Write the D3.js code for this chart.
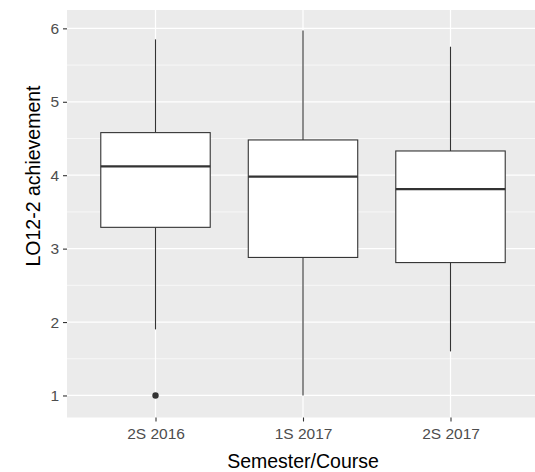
<!DOCTYPE html>
<html>
<head>
<meta charset="utf-8">
<script src="https://cdn.jsdelivr.net/npm/d3@7"></script>
<style>
  html, body { margin: 0; padding: 0; background: #ffffff; }
  svg { display: block; }
  text { font-family: Arial, "Liberation Sans", sans-serif; }
</style>
</head>
<body>
<svg id="chart" width="535" height="472"></svg>
<script>
// Five-number summaries per semester
const categories = ["2S 2016", "1S 2017", "2S 2017"];
const lowerWhisker = [1.9, 1.0, 1.6];
const q1 = [3.29, 2.88, 2.81];
const median = [4.12, 3.98, 3.81];
const q3 = [4.58, 4.48, 4.33];
const upperWhisker = [5.85, 5.97, 5.75];
const outlierCategory = ["2S 2016"];
const outlierValue = [1.0];
const yTicks = [1, 2, 3, 4, 5, 6];
const yMinor = [1.5, 2.5, 3.5, 4.5, 5.5];

const svg = d3.select("#chart");
const panel = { left: 67, top: 10, right: 539, bottom: 417.5 };

const x = d3.scalePoint()
  .domain(categories)
  .range([panel.left, panel.right])
  .padding(0.6);

const y = d3.scaleLinear()
  .domain([0.7, 6.25])
  .range([panel.bottom, panel.top]);

const boxWidth = x.step() * 0.742;

// Panel background
svg.append("rect")
  .attr("x", panel.left).attr("y", panel.top)
  .attr("width", panel.right - panel.left)
  .attr("height", panel.bottom - panel.top)
  .attr("fill", "#EBEBEB");

// Grid lines
const grid = svg.append("g");
grid.selectAll("line.minor").data(yMinor).join("line")
  .attr("class", "minor")
  .attr("x1", panel.left).attr("x2", panel.right)
  .attr("y1", d => y(d)).attr("y2", d => y(d))
  .attr("stroke", "#ffffff").attr("stroke-width", 0.6);
grid.selectAll("line.majorY").data(yTicks).join("line")
  .attr("class", "majorY")
  .attr("x1", panel.left).attr("x2", panel.right)
  .attr("y1", d => y(d)).attr("y2", d => y(d))
  .attr("stroke", "#ffffff").attr("stroke-width", 1.2);
grid.selectAll("line.majorX").data(categories).join("line")
  .attr("class", "majorX")
  .attr("x1", d => x(d)).attr("x2", d => x(d))
  .attr("y1", panel.top).attr("y2", panel.bottom)
  .attr("stroke", "#ffffff").attr("stroke-width", 1.2);

// Boxplots
const rows = categories.map((c, i) => ({
  c, lo: lowerWhisker[i], q1: q1[i], med: median[i], q3: q3[i], hi: upperWhisker[i]
}));

const boxes = svg.append("g").selectAll("g").data(rows).join("g");
boxes.append("line")
  .attr("x1", d => x(d.c)).attr("x2", d => x(d.c))
  .attr("y1", d => y(d.hi)).attr("y2", d => y(d.q3))
  .attr("stroke", "#333333").attr("stroke-width", 1.1);
boxes.append("line")
  .attr("x1", d => x(d.c)).attr("x2", d => x(d.c))
  .attr("y1", d => y(d.q1)).attr("y2", d => y(d.lo))
  .attr("stroke", "#333333").attr("stroke-width", 1.1);
boxes.append("rect")
  .attr("x", d => x(d.c) - boxWidth / 2)
  .attr("width", boxWidth)
  .attr("y", d => y(d.q3))
  .attr("height", d => y(d.q1) - y(d.q3))
  .attr("fill", "#ffffff")
  .attr("stroke", "#333333").attr("stroke-width", 1.1);
boxes.append("line")
  .attr("x1", d => x(d.c) - boxWidth / 2).attr("x2", d => x(d.c) + boxWidth / 2)
  .attr("y1", d => y(d.med)).attr("y2", d => y(d.med))
  .attr("stroke", "#333333").attr("stroke-width", 2.4);

// Outliers
svg.append("g").selectAll("circle")
  .data(outlierCategory.map((c, i) => ({ c, v: outlierValue[i] })))
  .join("circle")
  .attr("cx", d => x(d.c)).attr("cy", d => y(d.v))
  .attr("r", 3.2).attr("fill", "#333333");

// Axes
const yAxis = svg.append("g")
  .attr("transform", `translate(${panel.left},0)`)
  .call(d3.axisLeft(y).tickValues(yTicks).tickSize(4).tickPadding(4).tickFormat(d3.format("d")));
const xAxis = svg.append("g")
  .attr("transform", `translate(0,${panel.bottom})`)
  .call(d3.axisBottom(x).tickSize(4).tickPadding(6));

[yAxis, xAxis].forEach(a => {
  a.select(".domain").remove();
  a.selectAll(".tick line").attr("stroke", "#333333").attr("stroke-width", 1.1);
  a.selectAll(".tick text")
    .attr("fill", "#4D4D4D")
    .style("font-size", "15.5px")
    .style("font-family", "Arial, 'Liberation Sans', sans-serif");
});

// Axis titles
svg.append("text")
  .attr("x", 303).attr("y", 468)
  .attr("text-anchor", "middle")
  .style("font-size", "19.5px")
  .attr("fill", "#000000")
  .text("Semester/Course");

svg.append("text")
  .attr("transform", "translate(40,176) rotate(-90)")
  .attr("text-anchor", "middle")
  .style("font-size", "19.5px")
  .attr("fill", "#000000")
  .text("LO12-2 achievement");
</script>
</body>
</html>
